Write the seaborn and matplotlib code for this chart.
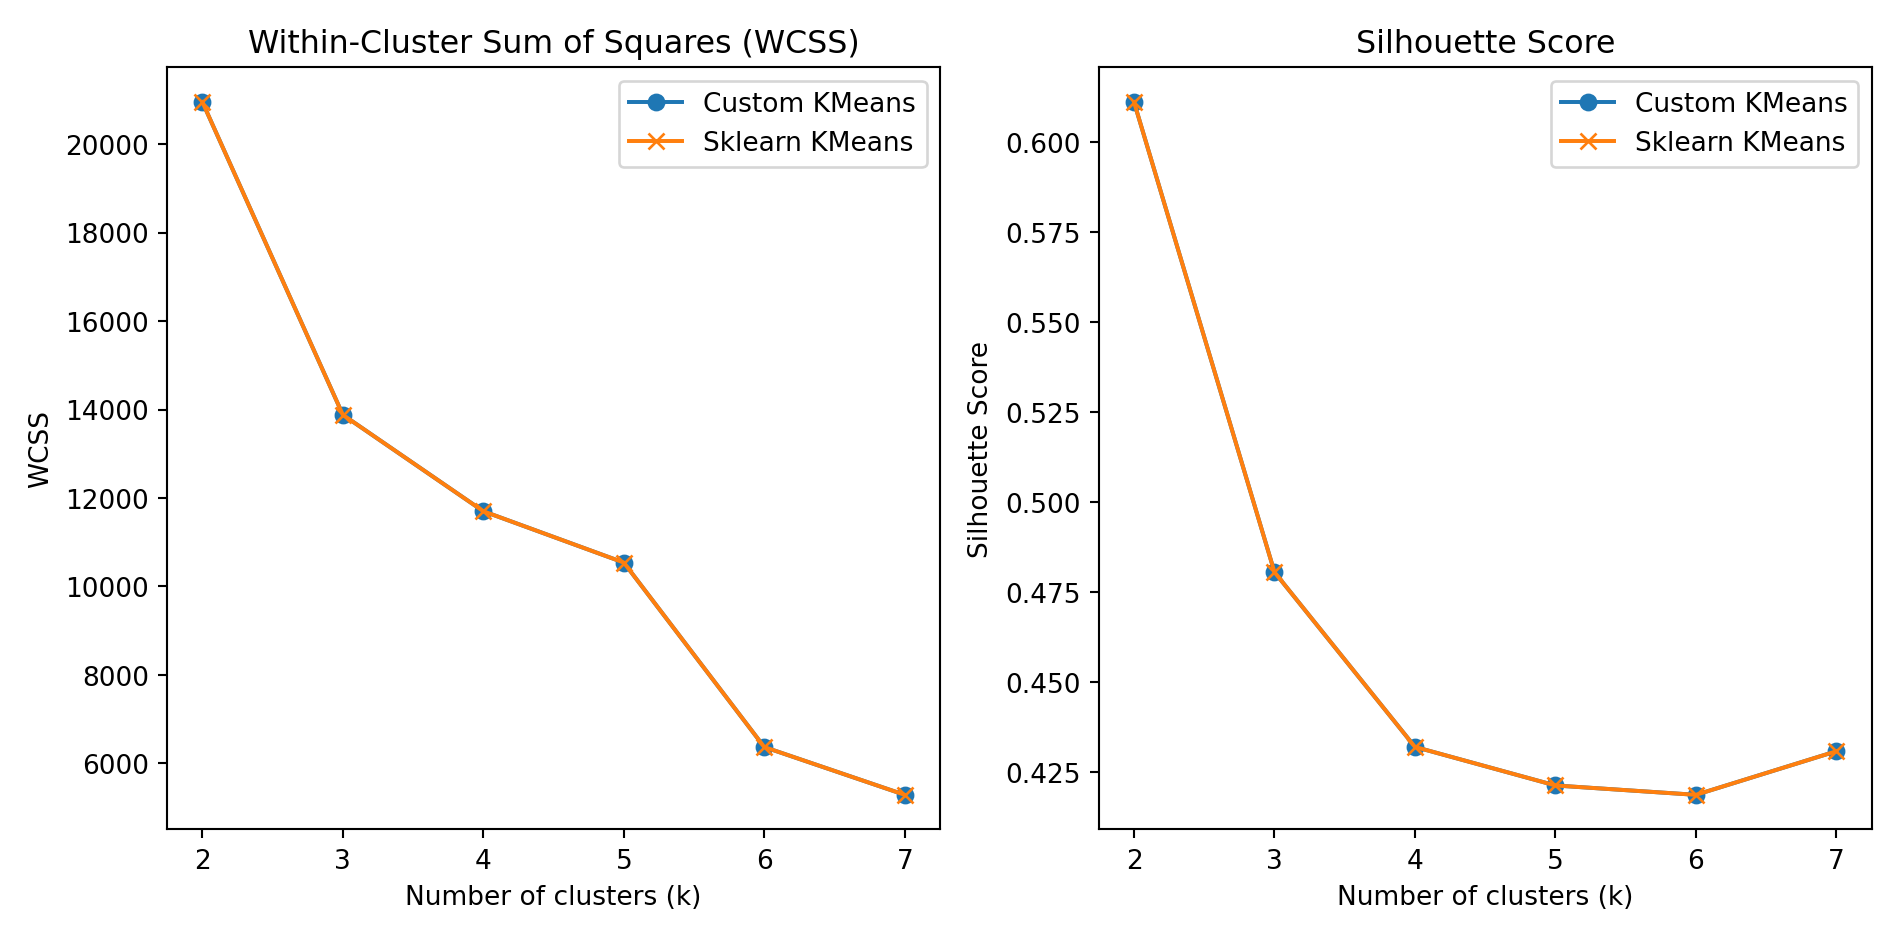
import matplotlib
matplotlib.use("Agg")
import matplotlib.pyplot as plt
import seaborn as sns

k_values = [2, 3, 4, 5, 6, 7]
wcss_custom = [20950, 13880, 11700, 10540, 6370, 5290]
wcss_sklearn = [20950, 13880, 11700, 10540, 6370, 5290]
sil_custom = [0.6110, 0.4805, 0.4320, 0.4213, 0.4187, 0.4308]
sil_sklearn = [0.6110, 0.4805, 0.4320, 0.4213, 0.4187, 0.4308]

fig, axes = plt.subplots(1, 2, figsize=(10, 4.947), dpi=190)

panels = [
    (axes[0], wcss_custom, wcss_sklearn, "Within-Cluster Sum of Squares (WCSS)", "WCSS"),
    (axes[1], sil_custom, sil_sklearn, "Silhouette Score", "Silhouette Score"),
]
for ax, custom, sk, title, ylabel in panels:
    sns.lineplot(x=k_values, y=custom, marker="o", markersize=6, color="#1f77b4",
                 markeredgecolor="#1f77b4", label="Custom KMeans", ax=ax)
    sns.lineplot(x=k_values, y=sk, marker="x", markersize=6, color="#ff7f0e",
                 markeredgecolor="#ff7f0e", mew=1.0, label="Sklearn KMeans", ax=ax)
    ax.set_title(title)
    ax.set_xlabel("Number of clusters (k)")
    ax.set_ylabel(ylabel)
    ax.legend(loc="upper right")

plt.tight_layout()
fig.savefig("out.png", dpi=190)
